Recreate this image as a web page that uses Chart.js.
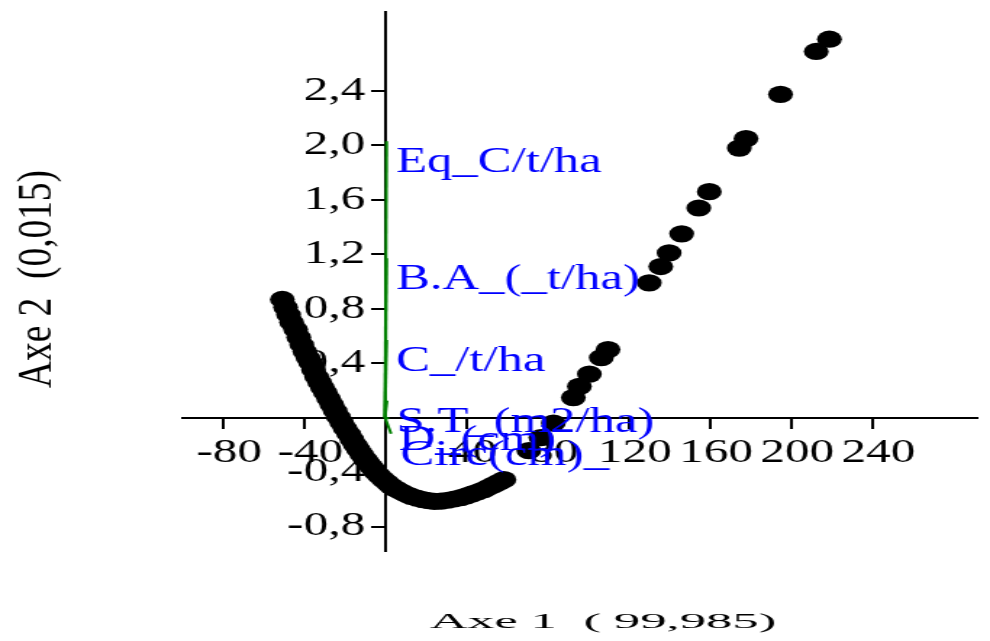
<!DOCTYPE html>
<html>
<head>
<meta charset="utf-8">
<script src="https://cdn.jsdelivr.net/npm/chart.js@4/dist/chart.umd.min.js"></script>
<style>
html,body{margin:0;padding:0;background:#fff;overflow:hidden;}
#wrap{position:absolute;left:0;top:0;width:683px;height:641px;transform:scaleX(1.4495);transform-origin:0 0;}
canvas{display:block;}
</style>
</head>
<body>
<div id="wrap"><canvas id="c" width="683" height="641"></canvas></div>
<script>
// Tick values
const xTicks = [-80, -40, 0, 40, 80, 120, 160, 200, 240];
const yTicks = [-0.8, -0.4, 0, 0.4, 0.8, 1.2, 1.6, 2.0, 2.4];

// Observations (Axe 1, Axe 2)
const obsX = [-50.6, -49.0, -47.5, -46.0, -44.0, -42.5, -41.0, -39.5, -38.0, -36.7,
  -35.2, -33.7, -32.2, -30.8, -29.4, -27.8, -26.2, -24.6, -23.0, -21.3,
  -19.6, -17.9, -16.3, -14.7, -13.1, -11.5, -9.8, -8.2, -6.5, -4.9,
  -2.9, -0.8, 1.2, 3.2, 5.6, 8.0, 10.5, 12.9, 15.8, 18.6,
  21.5, 24.4, 27.6, 30.9, 34.1, 37.4, 40.2, 43.0, 46.0, 48.8,
  51.3, 53.8, 56.2, 58.6,
  70.9, 76.8, 83.0, 92.8, 95.8, 100.7, 106.6, 109.9, 130.2, 135.9,
  140.0, 146.2, 154.6, 159.8, 174.6, 177.9, 194.9, 212.5, 219.0];
const obsY = [0.868, 0.81, 0.755, 0.70, 0.647, 0.59, 0.535, 0.485, 0.44, 0.404,
  0.35, 0.30, 0.26, 0.22, 0.184, 0.14, 0.095, 0.05, 0.005, -0.037,
  -0.08, -0.12, -0.16, -0.20, -0.235, -0.27, -0.305, -0.335, -0.365, -0.395,
  -0.425, -0.455, -0.48, -0.505, -0.525, -0.545, -0.563, -0.579, -0.592, -0.603,
  -0.61, -0.615, -0.613, -0.607, -0.598, -0.588, -0.575, -0.56, -0.545, -0.529,
  -0.51, -0.492, -0.474, -0.456,
  -0.243, -0.147, -0.04, 0.147, 0.23, 0.32, 0.44, 0.50, 0.99, 1.11,
  1.21, 1.35, 1.54, 1.66, 1.98, 2.05, 2.375, 2.69, 2.78];

// Variables (vectors)
const varNames = ['Eq_C/t/ha', 'B.A_(_t/ha)', 'C_/t/ha', 'S.T_(m2/ha)', 'D_(cm)', 'Circ(cm)_'];
const varX = [0.8, 0.8, 0.8, 1.0, 2.0, 3.0];
const varY = [2.03, 1.17, 0.57, 0.125, -0.007, -0.118];

const xTitle = 'Axe 1  ( 99,985)';
const yTitle = 'Axe 2  (0,015)';

const FONT = '"Liberation Serif", "Times New Roman", serif';

const fmtY = v => Math.abs(v) < 1e-9 ? '' : v.toFixed(1).replace('.', ',');
const fmtX = v => Math.abs(v) < 1e-9 ? '' : String(v);

const overlay = {
  id: 'overlay',
  afterDatasetsDraw(chart) {
    const {ctx} = chart;
    const xs = chart.scales.x, ys = chart.scales.y;
    ctx.save();
    ctx.fillStyle = '#0000ff';
    ctx.font = '35px ' + FONT;
    ctx.textAlign = 'left';
    ctx.textBaseline = 'alphabetic';
    varNames.forEach((n, i) => {
      ctx.fillText(n, xs.getPixelForValue(varX[i]) + 6.5, ys.getPixelForValue(varY[i]) + 31);
    });
    ctx.fillStyle = '#000';
    ctx.font = '21px ' + FONT;
    const w1 = ctx.measureText(xTitle).width;
    ctx.save();
    ctx.translate(416, 628);
    ctx.scale(239 / w1, 1);
    ctx.textAlign = 'center';
    ctx.fillText(xTitle, 0, 0);
    ctx.restore();
    ctx.font = '34px ' + FONT;
    const w2 = ctx.measureText(yTitle).width;
    ctx.save();
    ctx.translate(34.5, 279);
    ctx.rotate(-Math.PI / 2);
    ctx.scale(218 / w2, 1);
    ctx.textAlign = 'center';
    ctx.fillText(yTitle, 0, 0);
    ctx.restore();
    ctx.restore();
  }
};

const datasets = [{
  label: 'Observations',
  data: obsX.map((v, i) => ({x: v, y: obsY[i]})),
  backgroundColor: '#000',
  borderColor: '#000',
  borderWidth: 0,
  pointRadius: 8.6,
  pointHoverRadius: 8.6,
  showLine: false
}];
varNames.forEach((n, i) => {
  datasets.push({
    label: n,
    data: [{x: 0, y: 0}, {x: varX[i], y: varY[i]}],
    showLine: true,
    borderColor: '#008000',
    borderWidth: 2,
    pointRadius: 0,
    fill: false
  });
});

const noSpaceX = s => { s.height = 0; s.paddingLeft = 0; s.paddingRight = 0; s.paddingTop = 0; s.paddingBottom = 0; };
const noSpaceY = s => { s.width = 0; s.paddingLeft = 0; s.paddingRight = 0; s.paddingTop = 0; s.paddingBottom = 0; };
const tickFont = {family: FONT, size: 34, lineHeight: 1};

new Chart(document.getElementById('c'), {
  type: 'scatter',
  data: {datasets},
  options: {
    responsive: false,
    animation: false,
    events: [],
    layout: {padding: {left: 125.6, right: 3.4, top: 12, bottom: 90}},
    plugins: {legend: {display: false}, tooltip: {enabled: false}, title: {display: false}},
    scales: {
      x: {
        type: 'linear', min: -100, max: 292,
        position: {y: 0},
        afterBuildTicks: s => { s.ticks = xTicks.map(v => ({value: v})); },
        afterFit: noSpaceX,
        grid: {drawOnChartArea: false, drawTicks: true, tickLength: 10, color: '#000', lineWidth: 2},
        border: {display: true, color: '#000', width: 2},
        ticks: {autoSkip: false, maxRotation: 0, minRotation: 0, padding: 8.5, labelOffset: 4.5,
          color: '#000', font: tickFont, callback: v => fmtX(v)}
      },
      y: {
        type: 'linear', min: -0.98, max: 2.98,
        position: {x: 0},
        afterBuildTicks: s => { s.ticks = yTicks.map(v => ({value: v})); },
        afterFit: noSpaceY,
        grid: {drawOnChartArea: false, drawTicks: true, tickLength: 9, color: '#000', lineWidth: 2},
        border: {display: true, color: '#000', width: 2},
        ticks: {display: false}
      },
      yLab: {
        type: 'linear', axis: 'y', min: -0.98, max: 2.98,
        position: {x: -9.8},
        afterBuildTicks: s => { s.ticks = yTicks.map(v => ({value: v})); },
        afterFit: noSpaceY,
        grid: {display: false, drawTicks: false},
        border: {display: false},
        ticks: {autoSkip: false, padding: 0, color: '#000', font: tickFont, callback: v => fmtY(v)}
      }
    }
  },
  plugins: [overlay]
});
</script>
</body>
</html>
